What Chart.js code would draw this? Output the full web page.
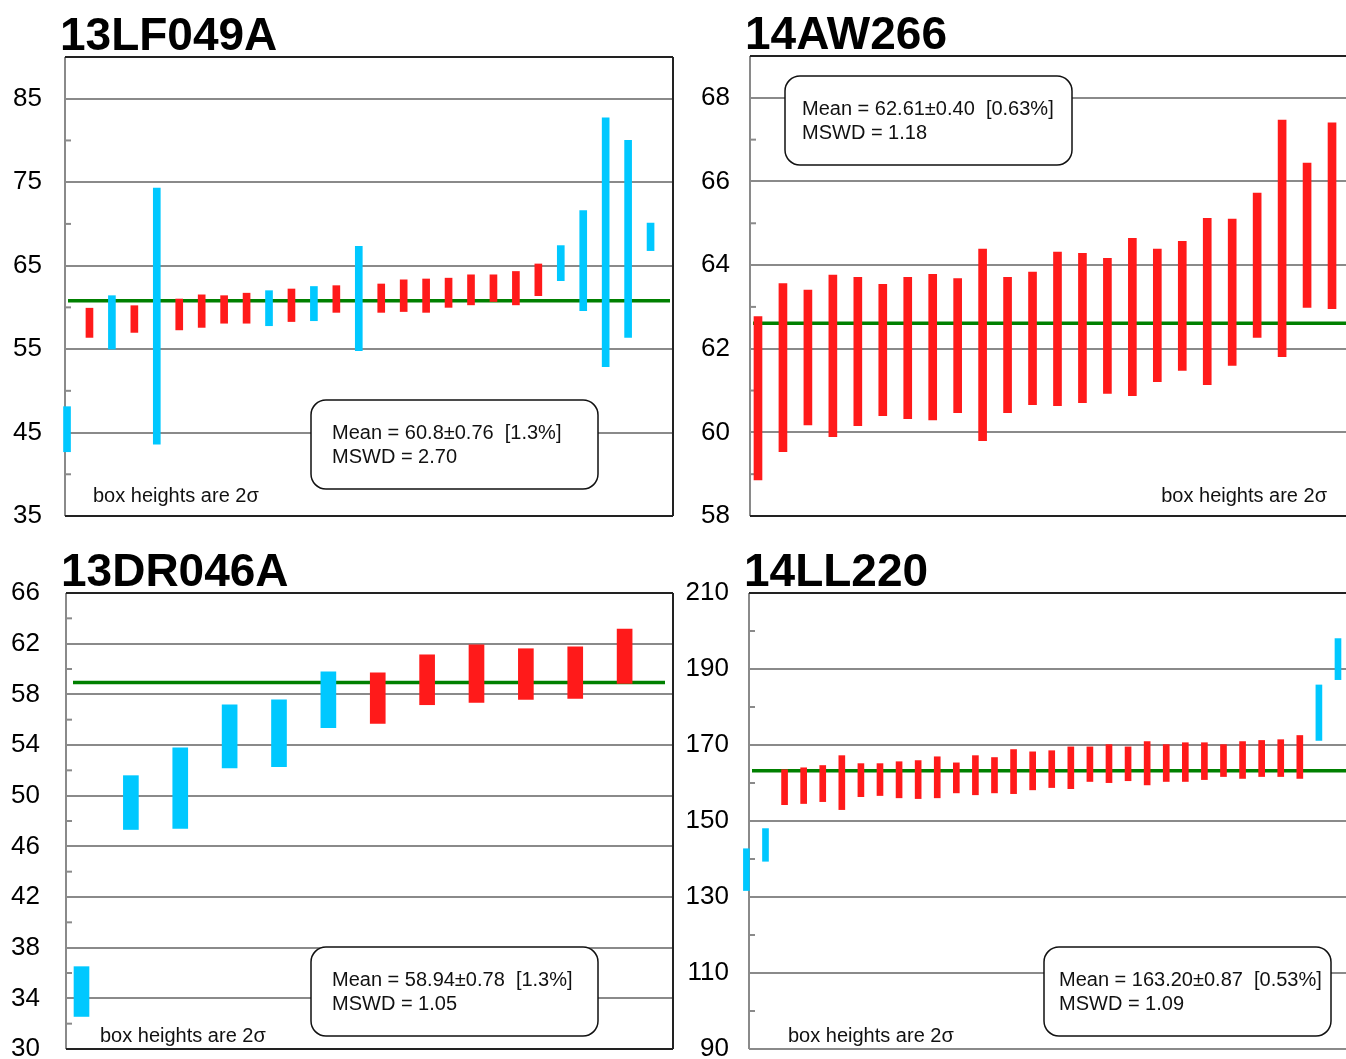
<!DOCTYPE html>
<html lang="en">
<head>
  <meta charset="UTF-8" />
  <title>Weighted mean ages</title>
  <script src="https://cdn.jsdelivr.net/npm/chart.js"></script>
  <style>
    body { margin: 0; background: #fff; }
    .sheet { position: relative; width: 1346px; height: 1059px; overflow: hidden; }
    .panel { position: absolute; }
    .panel canvas { display: block; }
  </style>
</head>
<body>

  <div class="sheet">
    <div class="panel" style="left:0;top:0"><canvas id="c1" width="680" height="530"></canvas></div>
    <div class="panel" style="left:680px;top:0"><canvas id="c2" width="666" height="530"></canvas></div>
    <div class="panel" style="left:0;top:540px"><canvas id="c3" width="680" height="519"></canvas></div>
    <div class="panel" style="left:680px;top:540px"><canvas id="c4" width="666" height="519"></canvas></div>
  </div>

  <script>
    // 13LF049A  (1 = used in mean, 0 = rejected)
    const lfLow  = [42.7, 56.4, 55.0, 57.0, 43.6, 57.3, 57.6, 58.1, 58.1, 57.8, 58.3, 58.4, 59.4, 54.8,
                    59.4, 59.5, 59.4, 60.0, 60.3, 60.7, 60.3, 61.4, 63.2, 59.6, 52.9, 56.4, 66.8];
    const lfHigh = [48.1, 59.9, 61.4, 60.2, 74.3, 61.0, 61.5, 61.4, 61.7, 62.0, 62.2, 62.5, 62.6, 67.3,
                    62.8, 63.3, 63.4, 63.5, 63.9, 63.9, 64.3, 65.2, 67.4, 71.6, 82.7, 80.0, 70.1];
    const lfUsed = [0, 1, 0, 1, 0, 1, 1, 1, 1, 0, 1, 0, 1, 0, 1, 1, 1, 1, 1, 1, 1, 1, 0, 0, 0, 0, 0];
    const lfTicks = [35, 45, 55, 65, 75, 85];
    const lfMinor = [40, 50, 60, 70, 80];
    const lfMean = 60.8;
    const lfStats = ['Mean = 60.8±0.76  [1.3%]', 'MSWD = 2.70'];

    // 14AW266
    const awLow  = [58.86, 59.54, 60.18, 59.90, 60.16, 60.40, 60.33, 60.30, 60.47, 59.80, 60.47, 60.66,
                    60.64, 60.71, 60.93, 60.88, 61.21, 61.48, 61.14, 61.60, 62.27, 61.81, 62.99, 62.96];
    const awHigh = [62.77, 63.56, 63.40, 63.76, 63.71, 63.54, 63.71, 63.78, 63.68, 64.38, 63.71, 63.83,
                    64.31, 64.28, 64.16, 64.64, 64.38, 64.57, 65.12, 65.10, 65.72, 67.47, 66.44, 67.40];
    const awUsed = [1, 1, 1, 1, 1, 1, 1, 1, 1, 1, 1, 1, 1, 1, 1, 1, 1, 1, 1, 1, 1, 1, 1, 1];
    const awTicks = [58, 60, 62, 64, 66, 68];
    const awMinor = [59, 61, 63, 65, 67];
    const awMean = 62.61;
    const awStats = ['Mean = 62.61±0.40  [0.63%]', 'MSWD = 1.18'];

    // 13DR046A
    const drLow  = [32.57, 47.33, 47.41, 52.20, 52.28, 55.36, 55.70, 57.18, 57.36, 57.60, 57.67, 58.86];
    const drHigh = [36.50, 51.58, 53.78, 57.18, 57.57, 59.78, 59.70, 61.12, 61.90, 61.60, 61.75, 63.16];
    const drUsed = [0, 0, 0, 0, 0, 0, 1, 1, 1, 1, 1, 1];
    const drTicks = [30, 34, 38, 42, 46, 50, 54, 58, 62, 66];
    const drMinor = [32, 36, 40, 44, 48, 52, 56, 60, 64];
    const drMean = 58.94;
    const drStats = ['Mean = 58.94±0.78  [1.3%]', 'MSWD = 1.05'];

    // 14LL220
    const llLow  = [131.7, 139.4, 154.3, 154.6, 155.1, 153.0, 156.4, 156.7, 156.1, 155.9, 156.1, 157.4,
                    156.9, 157.4, 157.2, 158.2, 158.8, 158.5, 160.4, 160.1, 160.6, 159.5, 160.4, 160.4,
                    160.9, 161.7, 161.2, 161.7, 161.7, 161.2, 171.2, 187.2];
    const llHigh = [142.7, 148.0, 163.5, 164.0, 164.6, 167.2, 165.1, 165.1, 165.6, 165.9, 166.9, 165.3,
                    167.2, 166.7, 168.8, 168.2, 168.5, 169.5, 169.5, 170.1, 169.5, 170.9, 170.1, 170.6,
                    170.6, 170.1, 170.9, 171.2, 171.4, 172.5, 185.8, 198.0];
    const llUsed = [0, 0, 1, 1, 1, 1, 1, 1, 1, 1, 1, 1, 1, 1, 1, 1, 1, 1, 1, 1, 1, 1, 1, 1,
                    1, 1, 1, 1, 1, 1, 0, 0];
    const llTicks = [90, 110, 130, 150, 170, 190, 210];
    const llMinor = [100, 120, 140, 160, 180, 200];
    const llMean = 163.20;
    const llStats = ['Mean = 163.20±0.87  [0.53%]', 'MSWD = 1.09'];

    const NOTE = 'box heights are 2σ';
    const FONT = '"Liberation Sans", Arial, sans-serif';
    const RED = '#ff1a1a', CYAN = '#00c8ff', GREEN = '#008000';
    const GRID = '#8a8a8a', FRAME = '#222';

    function roundBox(ctx, x, y, w, h, r) {
      ctx.beginPath();
      ctx.moveTo(x + r, y);
      ctx.arcTo(x + w, y, x + w, y + h, r);
      ctx.arcTo(x + w, y + h, x, y + h, r);
      ctx.arcTo(x, y + h, x, y, r);
      ctx.arcTo(x, y, x + w, y, r);
      ctx.closePath();
    }

    function line(ctx, x1, y1, x2, y2, color, w) {
      ctx.strokeStyle = color;
      ctx.lineWidth = w;
      ctx.beginPath();
      ctx.moveTo(x1, y1);
      ctx.lineTo(x2, y2);
      ctx.stroke();
    }

    function panel(id, p) {
      const pts = p.low.map((lo, i) => ({ x: i + 1, y: [lo, p.high[i]] }));
      const cols = p.used.map(u => u ? RED : CYAN);

      // frame, minor ticks, mean line, title, stats box, note
      const deco = {
        id: 'deco',
        beforeDatasetsDraw(chart) {
          const { ctx, chartArea: a } = chart;
          const y = chart.scales.y;
          ctx.save();
          line(ctx, a.left, a.top, a.left, a.bottom, GRID, 2);
          line(ctx, a.left, a.top, a.right, a.top, FRAME, 2);
          if (p.rightBorder) line(ctx, a.right, a.top, a.right, a.bottom, FRAME, 2);
          line(ctx, a.left, a.bottom, a.right, a.bottom, p.bottomColor, 2);
          p.minor.forEach(v => {
            const yy = y.getPixelForValue(v);
            line(ctx, a.left, yy, a.left + 6, yy, GRID, 2);
          });
          const ym = y.getPixelForValue(p.mean);
          line(ctx, a.left + p.meanInset[0], ym, a.right - p.meanInset[1], ym, GREEN, 3.5);

          ctx.fillStyle = '#000';
          ctx.font = 'bold 46px ' + FONT;
          ctx.textAlign = 'left';
          ctx.textBaseline = 'alphabetic';
          ctx.fillText(p.title, a.left - 5, a.top - 7);
          ctx.restore();
        },
        afterDatasetsDraw(chart) {
          const { ctx, chartArea: a } = chart;
          ctx.save();
          const bx = a.left + p.box[0];
          const by = p.box[1] >= 0 ? a.top + p.box[1] : a.bottom + p.box[1];
          roundBox(ctx, bx, by, 287, 89, 15);
          ctx.fillStyle = '#fff';
          ctx.fill();
          ctx.strokeStyle = '#111';
          ctx.lineWidth = 1.5;
          ctx.stroke();

          ctx.fillStyle = '#111';
          ctx.font = '20px ' + FONT;
          ctx.textBaseline = 'alphabetic';
          ctx.textAlign = 'left';
          ctx.fillText(p.stats[0], bx + p.boxText, by + 39);
          ctx.fillText(p.stats[1], bx + p.boxText, by + 63);

          if (p.note[0] >= 0) {
            ctx.textAlign = 'left';
            ctx.fillText(NOTE, a.left + p.note[0], a.bottom - p.note[1]);
          } else {
            ctx.textAlign = 'right';
            ctx.fillText(NOTE, a.right + p.note[0], a.bottom - p.note[1]);
          }
          ctx.restore();
        }
      };

      new Chart(document.getElementById(id), {
        type: 'bar',
        data: {
          datasets: [{
            data: pts,
            backgroundColor: cols,
            borderWidth: 0,
            barThickness: p.barW,
            clip: false
          }]
        },
        options: {
          responsive: false,
          animation: false,
          layout: { padding: p.pad },
          plugins: {
            legend: { display: false },
            tooltip: { enabled: false },
            title: { display: false }
          },
          scales: {
            x: {
              type: 'linear',
              display: false,
              offset: false,
              min: p.xMin,
              max: p.xMax,
              grid: { offset: false }
            },
            y: {
              min: p.yMin,
              max: p.yMax,
              afterBuildTicks: s => { s.ticks = p.ticks.map(v => ({ value: v })); },
              afterFit: s => { s.width = p.axisW; s.paddingTop = 0; s.paddingBottom = 0; },
              ticks: { padding: p.labelGap, color: '#000', autoSkip: false, font: { size: 26, family: FONT } },
              grid: { color: GRID, lineWidth: 2, drawTicks: false },
              border: { display: false }
            }
          }
        },
        plugins: [deco]
      });
    }

    window.onload = () => {
      panel('c1', {
        title: '13LF049A', low: lfLow, high: lfHigh, used: lfUsed, mean: lfMean, stats: lfStats,
        ticks: lfTicks, minor: lfMinor, yMin: 35, yMax: 90, xMin: 0.91, xMax: 28.0,
        barW: 7, axisW: 65, labelGap: 23, pad: { left: 0, top: 57, right: 7, bottom: 14 },
        meanInset: [3, 3], rightBorder: true, bottomColor: FRAME,
        box: [246, -116], boxText: 21, note: [28, 14]
      });
      panel('c2', {
        title: '14AW266', low: awLow, high: awHigh, used: awUsed, mean: awMean, stats: awStats,
        ticks: awTicks, minor: awMinor, yMin: 58, yMax: 69, xMin: 0.68, xMax: 24.56,
        barW: 8, axisW: 70, labelGap: 20, pad: { left: 0, top: 56, right: 0, bottom: 14 },
        meanInset: [3, 0], rightBorder: false, bottomColor: FRAME,
        box: [35, 20], boxText: 17, note: [-19, 14]
      });
      panel('c3', {
        title: '13DR046A', low: drLow, high: drHigh, used: drUsed, mean: drMean, stats: drStats,
        ticks: drTicks, minor: drMinor, yMin: 30, yMax: 66, xMin: 0.686, xMax: 12.98,
        barW: 15, axisW: 66, labelGap: 26, pad: { left: 0, top: 53, right: 7, bottom: 10 },
        meanInset: [7, 8], rightBorder: true, bottomColor: FRAME,
        box: [245, -102], boxText: 21, note: [34, 7]
      });
      panel('c4', {
        title: '14LL220', low: llLow, high: llHigh, used: llUsed, mean: llMean, stats: llStats,
        ticks: llTicks, minor: llMinor, yMin: 90, yMax: 210, xMin: 1.136, xMax: 32.42,
        barW: 6, axisW: 69, labelGap: 20, pad: { left: 0, top: 53, right: 0, bottom: 10 },
        meanInset: [3, 0], rightBorder: false, bottomColor: GRID,
        box: [295, -102], boxText: 15, note: [39, 7]
      });
    };
  </script>

</body>
</html>
